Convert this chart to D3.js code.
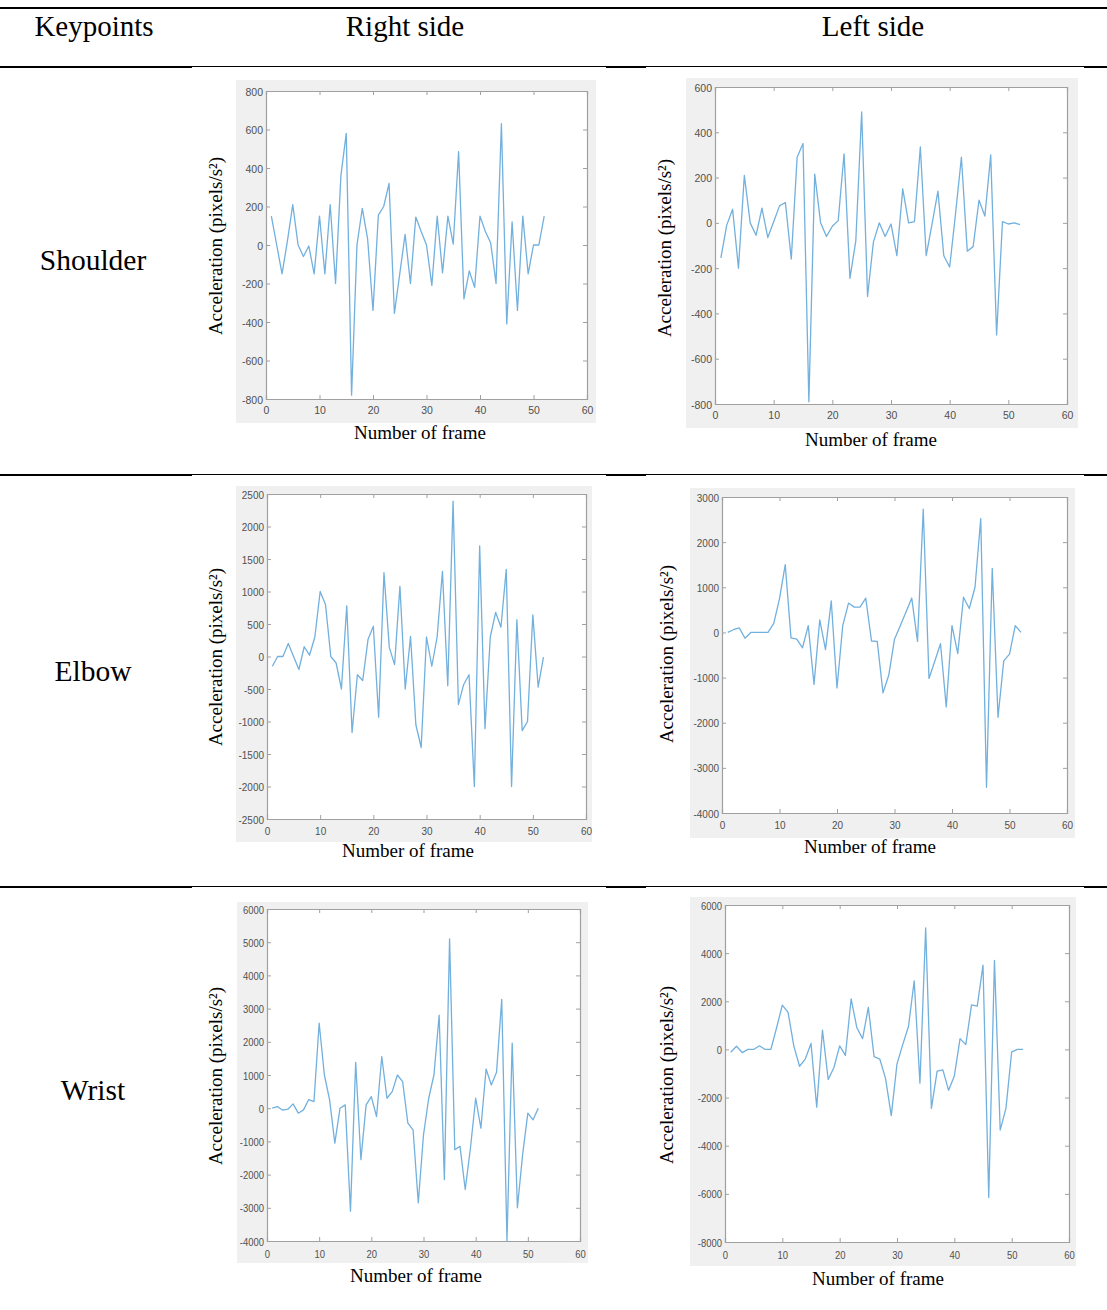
<!DOCTYPE html>
<html><head><meta charset="utf-8">
<script src="https://cdn.jsdelivr.net/npm/d3@7"></script>
<style>html,body{margin:0;padding:0;background:#fff;}svg{display:block;}</style>
</head><body>
<svg id="c" width="1107" height="1310"></svg>
<script>
// ---------- DATA ----------
const columnHeaders = ["Keypoints", "Right side", "Left side"];
const rowLabels = ["Shoulder", "Elbow", "Wrist"];
const xTicks = [0, 10, 20, 30, 40, 50, 60];

const shoulderRight = [150,0,-150,20,210,0,-60,-5,-150,150,
  -150,210,-200,360,580,-780,0,190,30,-340,
  155,200,320,-355,-150,55,-200,145,70,0,
  -210,150,-145,150,5,485,-280,-135,-220,150,
  70,10,-200,630,-410,120,-340,150,-150,0,
  0,150];
const shoulderLeft = [-155,-10,60,-200,210,0,-55,65,-65,5,
  75,90,-160,290,350,-790,215,0,-60,-15,
  10,305,-245,-80,490,-325,-85,0,-60,-5,
  -145,150,0,5,335,-145,-5,140,-145,-195,
  40,290,-125,-105,100,30,300,-495,5,-5,
  0,-8];
const elbowRight = [-150,0,0,200,0,-200,150,20,300,1000,
  800,0,-100,-500,780,-1170,-280,-370,260,465,
  -935,1290,140,-125,1080,-500,310,-1050,-1400,300,
  -150,300,1310,-450,2390,-740,-430,-280,-2000,1700,
  -1110,300,680,450,1340,-2000,565,-1140,-1000,640,
  -470,-10];
const elbowLeft = [0,60,100,-130,0,0,0,0,200,750,
  1500,-120,-150,-340,150,-1150,280,-380,700,-1230,
  150,650,560,560,760,-190,-200,-1340,-950,-150,
  150,450,760,-200,2730,-1020,-640,-250,-1650,150,
  -470,780,530,1000,2520,-3430,1420,-1880,-630,-480,
  150,0];
const wristRight = [0,50,-60,-30,130,-150,-50,260,200,2560,
  1000,250,-1050,0,100,-3100,1380,-1550,100,350,
  -250,1550,300,500,1000,800,-450,-650,-2850,-800,
  300,1000,2800,-2150,5100,-1250,-1150,-2450,-1200,300,
  -600,1180,700,1080,3280,-4000,1960,-3000,-1400,-150,
  -350,0];
const wristLeft = [-120,130,-130,0,0,150,0,0,900,1840,
  1540,150,-700,-400,250,-2400,800,-1250,-750,150,
  -250,2100,900,450,1750,-300,-400,-1200,-2750,-600,
  200,950,2850,-1400,5050,-2450,-900,-850,-1700,-1100,
  450,200,1850,1800,3500,-6150,3700,-3350,-2450,-100,
  0,0];

const shoulderRightTicks = [-800,-600,-400,-200,0,200,400,600,800];
const shoulderLeftTicks = [-800,-600,-400,-200,0,200,400,600];
const elbowRightTicks = [-2500,-2000,-1500,-1000,-500,0,500,1000,1500,2000,2500];
const elbowLeftTicks = [-4000,-3000,-2000,-1000,0,1000,2000,3000];
const wristRightTicks = [-4000,-3000,-2000,-1000,0,1000,2000,3000,4000,5000,6000];
const wristLeftTicks = [-8000,-6000,-4000,-2000,0,2000,4000,6000];

const xLabel = "Number of frame";
const yLabel = "Acceleration (pixels/s²)";

// ---------- LAYOUT ----------
const panels = [
  {data: shoulderRight, ticks: shoulderRightTicks, bg:[236,80,596,423], ax:[266,91,587,399], xl:[420,439], yl:[222,246], xo:15, sx:1},
  {data: shoulderLeft,  ticks: shoulderLeftTicks,  bg:[686,78,1078,428], ax:[715,87,1067,404], xl:[871,446], yl:[671,248], xo:15, sx:1},
  {data: elbowRight,    ticks: elbowRightTicks,    bg:[236,486,592,842], ax:[267,494,586,819], xl:[408,857], yl:[222,657], xo:16, sx:0.95},
  {data: elbowLeft,     ticks: elbowLeftTicks,     bg:[690,488,1075,838], ax:[722,497,1067,813], xl:[870,853], yl:[673,654], xo:16, sx:0.95},
  {data: wristRight,    ticks: wristRightTicks,    bg:[237,902,588,1263], ax:[267,909,580,1241], xl:[416,1282], yl:[222,1076], xo:17, sx:0.9},
  {data: wristLeft,     ticks: wristLeftTicks,     bg:[690,897,1076,1266], ax:[725,905,1069,1242], xl:[878,1285], yl:[673,1075], xo:17, sx:0.9}
];

const svg = d3.select("#c");
const serif = "'Liberation Serif','Times New Roman',serif";
const sans = "'Liberation Sans',Arial,Helvetica,sans-serif";

// Table rules
svg.append("rect").attr("x",0).attr("y",7).attr("width",1107).attr("height",2).attr("fill","#000");
[66, 474, 886].forEach(y => {
  svg.append("rect").attr("x",0).attr("y",y).attr("width",1107).attr("height",1).attr("fill","#000");
  [[0,192],[606,646],[1084,1107]].forEach(([a,b]) =>
    svg.append("rect").attr("x",a).attr("y",y).attr("width",b-a).attr("height",2).attr("fill","#000"));
});

// Headers
const headX = [94, 405, 873];
columnHeaders.forEach((t,i) => svg.append("text").attr("x",headX[i]).attr("y",36)
  .attr("text-anchor","middle").attr("font-family",serif).attr("font-size",29).attr("fill","#000").text(t));
const rowY = [270, 681, 1100];
rowLabels.forEach((t,i) => svg.append("text").attr("x",93).attr("y",rowY[i])
  .attr("text-anchor","middle").attr("font-family",serif).attr("font-size",29.5).attr("fill","#000").text(t));

// Panels
panels.forEach(p => {
  const g = svg.append("g");
  const [bx0,by0,bx1,by1] = p.bg;
  g.append("rect").attr("x",bx0).attr("y",by0).attr("width",bx1-bx0).attr("height",by1-by0).attr("fill","#f0f0f0");
  const [l,t,r,b] = p.ax;
  const ext = d3.extent(p.ticks);
  const x = d3.scaleLinear().domain([0,60]).range([l,r]);
  const y = d3.scaleLinear().domain(ext).range([b,t]);
  g.append("rect").attr("x",l).attr("y",t).attr("width",r-l).attr("height",b-t).attr("fill","#fff");

  const fmt = v => String(v);
  const tickLen = 4, axColor = "#a0a0a0";
  const xb = g.append("g").attr("transform",`translate(0,${b})`)
    .call(d3.axisBottom(x).tickValues(xTicks).tickSize(-tickLen).tickFormat(fmt));
  const xtop = g.append("g").attr("transform",`translate(0,${t})`)
    .call(d3.axisTop(x).tickValues(xTicks).tickSize(-tickLen).tickFormat(""));
  const yl = g.append("g").attr("transform",`translate(${l},0)`)
    .call(d3.axisLeft(y).tickValues(p.ticks).tickSize(-tickLen).tickFormat(fmt));
  const yr = g.append("g").attr("transform",`translate(${r},0)`)
    .call(d3.axisRight(y).tickValues(p.ticks).tickSize(-tickLen).tickFormat(""));
  [xb,xtop,yl,yr].forEach(a => {
    a.select(".domain").attr("stroke",axColor).attr("stroke-width",1.2);
    a.selectAll(".tick line").attr("stroke",axColor);
  });
  xb.selectAll(".tick text").attr("font-family",sans).attr("font-size",10.5).attr("fill","#505050")
    .attr("y", null).attr("dy", null)
    .attr("transform", `translate(0,${p.xo}) scale(${p.sx},1.1)`);
  yl.selectAll(".tick text").attr("font-family",sans).attr("font-size",10.5).attr("fill","#505050")
    .attr("x", null).attr("dy","0.35em")
    .attr("transform", `translate(-3,0) scale(${p.sx},1.1)`);

  const line = d3.line().x((d,i) => x(i+1)).y(d => y(d));
  g.append("path").datum(p.data).attr("d",line).attr("fill","none")
    .attr("stroke","#72b0de").attr("stroke-width",1.3).attr("stroke-linejoin","round");

  g.append("text").attr("x",p.xl[0]).attr("y",p.xl[1]).attr("text-anchor","middle")
    .attr("font-family",serif).attr("font-size",19).attr("fill","#000").text(xLabel);
  g.append("text").attr("transform",`translate(${p.yl[0]},${p.yl[1]}) rotate(-90)`).attr("text-anchor","middle")
    .attr("font-family",serif).attr("font-size",19).attr("fill","#000").text(yLabel);
});
</script>
</body></html>
